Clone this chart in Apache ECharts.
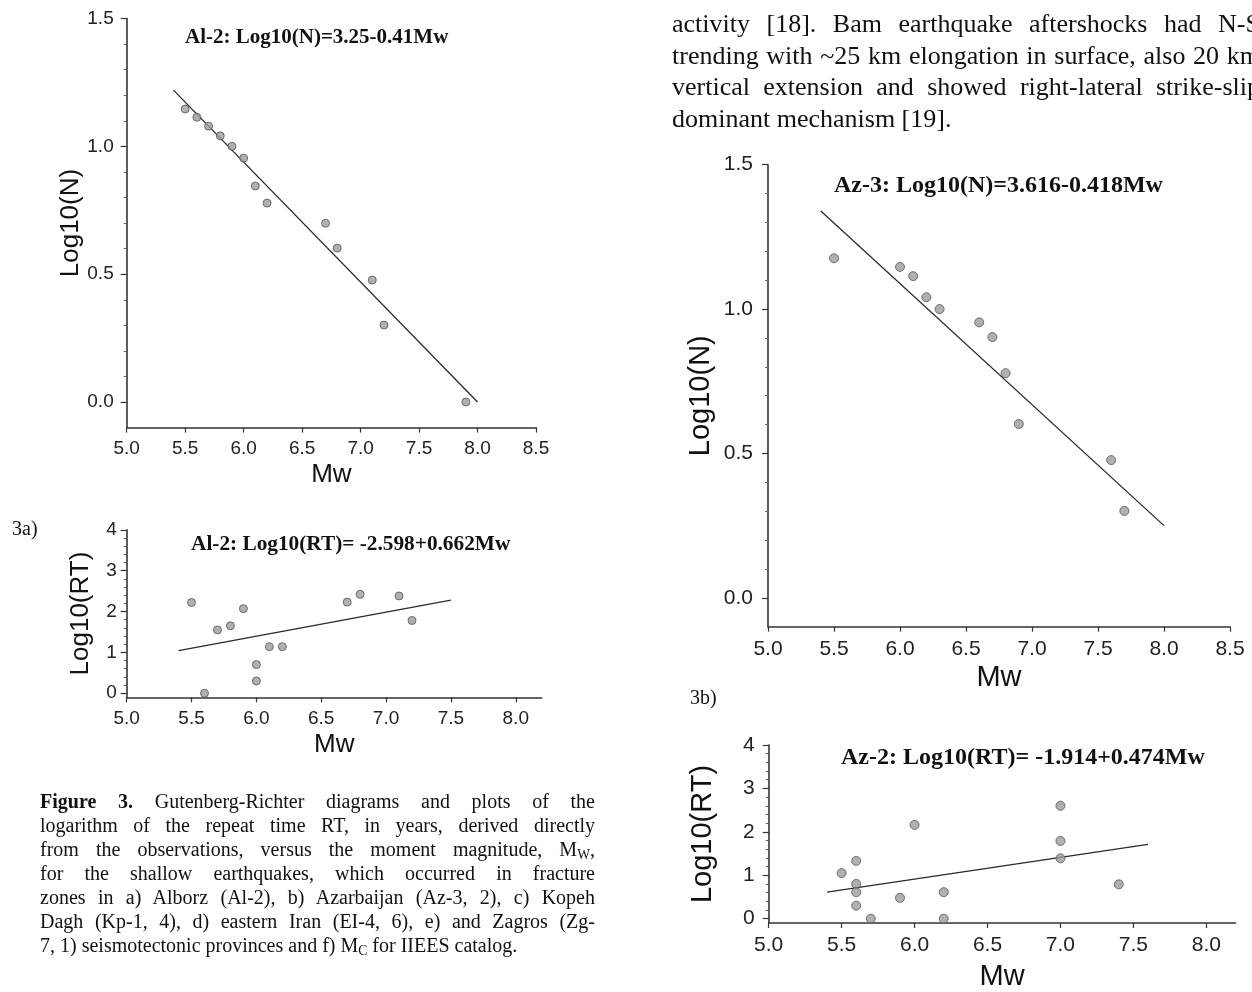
<!DOCTYPE html>
<html>
<head>
<meta charset="utf-8">
<script src="https://cdn.jsdelivr.net/npm/echarts@6/dist/echarts.min.js"></script>
<style>
  html, body { margin: 0; padding: 0; background: #fff; overflow: hidden; }
  #page { position: relative; width: 1252px; height: 992px; overflow: hidden; background: #fff; }
  #chart { position: absolute; left: 0; top: 0; width: 1252px; height: 992px; }
  .ln { position: absolute; font-family: 'Liberation Serif', 'Times New Roman', serif; color: #111;
        text-align: justify; text-align-last: justify; }
  .ln.last { text-align-last: left; }
  .para { left: 672px; width: 588px; font-size: 26px; line-height: 31.5px; height: 31.5px; }
  .cap { left: 40px; width: 555px; font-size: 20px; line-height: 24px; height: 24px; }
  .tag { position: absolute; font-family: 'Liberation Serif', 'Times New Roman', serif; font-size: 20px; line-height: 24px; color: #111; }
  sub { font-size: 0.68em; vertical-align: -0.25em; line-height: 0; }
</style>
</head>
<body>
<div id="page">
  <div id="chart"></div>

  <div class="ln para" style="top:8px">activity [18]. Bam earthquake aftershocks had N-S</div>
  <div class="ln para" style="top:39.5px">trending with ~25 km elongation in surface, also 20 km</div>
  <div class="ln para" style="top:71px">vertical extension and showed right-lateral strike-slip</div>
  <div class="ln para last" style="top:102.5px">dominant mechanism [19].</div>

  <div class="tag" style="left:12px; top:516px">3a)</div>
  <div class="tag" style="left:690px; top:685px">3b)</div>

  <div class="ln cap" style="top:789px"><b>Figure 3.</b> Gutenberg-Richter diagrams and plots of the</div>
  <div class="ln cap" style="top:813px">logarithm of the repeat time RT, in years, derived directly</div>
  <div class="ln cap" style="top:837px">from the observations, versus the moment magnitude, M<sub>W</sub>,</div>
  <div class="ln cap" style="top:861px">for the shallow earthquakes, which occurred in fracture</div>
  <div class="ln cap" style="top:885px">zones in a) Alborz (Al-2), b) Azarbaijan (Az-3, 2), c) Kopeh</div>
  <div class="ln cap" style="top:909px">Dagh (Kp-1, 4), d) eastern Iran (EI-4, 6), e) and Zagros (Zg-</div>
  <div class="ln cap last" style="top:933px">7, 1) seismotectonic provinces and f) M<sub>C</sub> for IIEES catalog.</div>
</div>

<script>
// ---- Alborz (Al-2): cumulative frequency ----
const al2Mw      = [5.5, 5.6, 5.7, 5.8, 5.9, 6.0, 6.1, 6.2, 6.7, 6.8, 7.1, 7.2, 7.9];
const al2LogN    = [1.146, 1.114, 1.079, 1.041, 1.0, 0.954, 0.845, 0.778, 0.699, 0.602, 0.477, 0.301, 0.0];
const al2FitN    = [[5.4, 1.22], [8.0, 0.0]];

// ---- Alborz (Al-2): repeat time ----
const al2RtMw    = [5.5, 5.6, 5.7, 5.8, 5.9, 6.0, 6.0, 6.1, 6.2, 6.7, 6.8, 7.1, 7.2];
const al2LogRT   = [2.22, 0.0, 1.55, 1.65, 2.07, 0.70, 0.30, 1.14, 1.14, 2.23, 2.42, 2.38, 1.78];
const al2FitRT   = [[5.4, 1.04], [7.5, 2.28]];

// ---- Azarbaijan (Az-3): cumulative frequency ----
const az3Mw      = [5.5, 6.0, 6.1, 6.2, 6.3, 6.6, 6.7, 6.8, 6.9, 7.6, 7.7];
const az3LogN    = [1.176, 1.146, 1.114, 1.041, 1.0, 0.954, 0.903, 0.778, 0.602, 0.477, 0.301];
const az3FitN    = [[5.4, 1.34], [8.0, 0.25]];

// ---- Azarbaijan (Az-2): repeat time ----
const az2RtMw    = [5.5, 5.6, 5.6, 5.6, 5.6, 5.7, 5.9, 6.0, 6.2, 6.2, 7.0, 7.0, 7.0, 7.4];
const az2LogRT   = [1.05, 1.33, 0.80, 0.61, 0.30, 0.0, 0.48, 2.16, 0.61, 0.0, 2.60, 1.79, 1.39, 0.79];
const az2FitRT   = [[5.4, 0.61], [7.6, 1.71]];

// ---- axis ticks ----
const mwTicksWide   = [5.0, 5.5, 6.0, 6.5, 7.0, 7.5, 8.0, 8.5];
const mwTicksNarrow = [5.0, 5.5, 6.0, 6.5, 7.0, 7.5, 8.0];
const logNTicks     = [0.0, 0.5, 1.0, 1.5];
const logNMinor     = [0.1, 0.2, 0.3, 0.4, 0.6, 0.7, 0.8, 0.9, 1.1, 1.2, 1.3, 1.4];
const logRTTicks    = [0, 1, 2, 3, 4];
const logRTMinor    = [0.2, 0.4, 0.6, 0.8, 1.2, 1.4, 1.6, 1.8, 2.2, 2.4, 2.6, 2.8, 3.2, 3.4, 3.6, 3.8];

const titles = [
  'Al-2: Log10(N)=3.25-0.41Mw',
  'Al-2: Log10(RT)= -2.598+0.662Mw',
  'Az-3: Log10(N)=3.616-0.418Mw',
  'Az-2: Log10(RT)= -1.914+0.474Mw'
];

const SANS = "'Liberation Sans', Arial, Helvetica, sans-serif";
const SERIF = "'Liberation Serif', 'Times New Roman', serif";
const AXIS = '#333';

function pairs(xs, ys) { return xs.map((x, i) => [x, ys[i]]); }

function xAxis(grid, max, ticks, fs, nameFs, gap, margin) {
  return {
    type: 'value', gridIndex: grid, min: 5, max: max,
    name: 'Mw', nameLocation: 'middle', nameGap: gap, nameMoveOverlap: false,
    nameTextStyle: { fontSize: nameFs, color: '#111', fontFamily: SANS },
    axisLine: { show: true, onZero: false, lineStyle: { color: AXIS, width: 1.6 } },
    axisTick: { show: true, length: 5, customValues: ticks, lineStyle: { color: AXIS, width: 1.2 } },
    axisLabel: { customValues: ticks, formatter: v => v.toFixed(1), fontSize: fs, color: '#222', margin: margin, fontFamily: SANS },
    splitLine: { show: false }
  };
}

function yMajor(grid, min, max, ticks, fmt, fs, name, nameFs, gap, margin) {
  return {
    type: 'value', gridIndex: grid, min: min, max: max, position: 'left',
    name: name, nameLocation: 'middle', nameGap: gap, nameMoveOverlap: false,
    nameTextStyle: { fontSize: nameFs, color: '#111', fontFamily: SANS },
    axisLine: { show: true, onZero: false, lineStyle: { color: AXIS, width: 1.6 } },
    axisTick: { show: true, length: 6, customValues: ticks, lineStyle: { color: AXIS, width: 1.2 } },
    axisLabel: { customValues: ticks, formatter: fmt, fontSize: fs, color: '#222', margin: margin, fontFamily: SANS },
    splitLine: { show: false }
  };
}

// second axis on the same side, only used for the short intermediate ticks
function yMinor(grid, min, max, ticks) {
  return {
    type: 'value', gridIndex: grid, min: min, max: max, position: 'left', offset: 0,
    axisLine: { show: false, onZero: false },
    axisTick: { show: true, length: 3, customValues: ticks, lineStyle: { color: '#666', width: 1 } },
    axisLabel: { show: false },
    splitLine: { show: false }
  };
}

function dots(xIdx, yIdx, data, size) {
  return {
    type: 'scatter', xAxisIndex: xIdx, yAxisIndex: yIdx, data: data, symbolSize: size,
    itemStyle: { color: '#9c9c9c', borderColor: '#555', borderWidth: 1 }, z: 3
  };
}

function fit(xIdx, yIdx, data) {
  return {
    type: 'line', xAxisIndex: xIdx, yAxisIndex: yIdx, data: data, showSymbol: false, symbol: 'none',
    lineStyle: { color: '#2a2a2a', width: 1.3 }, z: 2
  };
}

function titleAt(text, left, top, fs) {
  return { text: text, left: left, top: top, padding: 0,
    textStyle: { fontFamily: SERIF, fontWeight: 'bold', fontSize: fs, color: '#111' } };
}

const f1 = v => v.toFixed(1);
const f0 = v => String(Math.round(v));

const option = {
  animation: false,
  backgroundColor: 'transparent',
  title: [
    titleAt(titles[0], 185, 27, 21),
    titleAt(titles[1], 191, 534, 21.3),
    titleAt(titles[2], 834, 174, 24),
    titleAt(titles[3], 841, 746, 24)
  ],
  grid: [
    { left: 126.7, top: 18.5, width: 409.3, height: 409.1 },
    { left: 126.7, top: 529.8, width: 415, height: 167.5 },
    { left: 768, top: 164.7, width: 462, height: 462 },
    { left: 768.7, top: 745, width: 466.8, height: 184.3 }
  ],
  xAxis: [
    xAxis(0, 8.5, mwTicksWide, 19, 26, 34, 12),
    xAxis(1, 8.2, mwTicksNarrow, 19, 26, 35, 12),
    xAxis(2, 8.5, mwTicksWide, 21, 29, 37, 12),
    xAxis(3, 8.2, mwTicksNarrow, 21, 29, 39, 12)
  ],
  yAxis: [
    yMajor(0, -0.1, 1.5, logNTicks, f1, 19, 'Log10(N)', 26, 43, 13),
    yMinor(0, -0.1, 1.5, logNMinor),
    yMajor(1, -0.1, 4, logRTTicks, f0, 19, 'Log10(RT)', 26, 33, 10),
    yMinor(1, -0.1, 4, logRTMinor),
    yMajor(2, -0.1, 1.5, logNTicks, f1, 21, 'Log10(N)', 29, 53, 15),
    yMinor(2, -0.1, 1.5, logNMinor),
    yMajor(3, -0.1, 4, logRTTicks, f0, 21, 'Log10(RT)', 29, 51, 14),
    yMinor(3, -0.1, 4, logRTMinor)
  ],
  series: [
    fit(0, 0, al2FitN),
    dots(0, 0, pairs(al2Mw, al2LogN), 8),
    fit(1, 2, al2FitRT),
    dots(1, 2, pairs(al2RtMw, al2LogRT), 8),
    fit(2, 4, az3FitN),
    dots(2, 4, pairs(az3Mw, az3LogN), 9),
    fit(3, 6, az2FitRT),
    dots(3, 6, pairs(az2RtMw, az2LogRT), 9)
  ]
};

const chart = echarts.init(document.getElementById('chart'), null, { renderer: 'canvas' });
chart.setOption(option);
</script>
</body>
</html>
